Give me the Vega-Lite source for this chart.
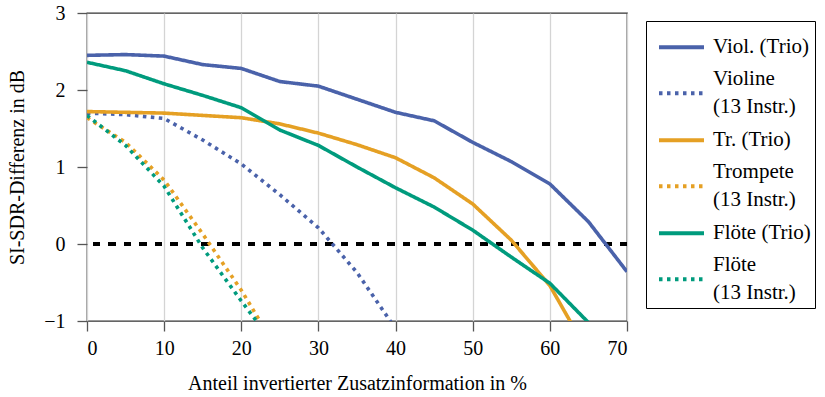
{
  "$schema": "https://vega.github.io/schema/vega-lite/v6.json",
  "width": 540,
  "height": 308,
  "autosize": {"type": "none"},
  "padding": {"left": 87, "top": 13, "right": 198, "bottom": 76},
  "background": "white",
  "config": {
    "font": "Liberation Serif",
    "view": {"stroke": "#333333", "strokeWidth": 1.3},
    "axis": {
      "labelFont": "Liberation Serif",
      "titleFont": "Liberation Serif",
      "labelFontSize": 20,
      "titleFontSize": 20,
      "titleFontWeight": "normal",
      "labelColor": "black",
      "titleColor": "black",
      "gridColor": "#d4d4d4",
      "gridWidth": 1.3,
      "tickColor": "#555555",
      "tickWidth": 1.3,
      "tickSize": 10,
      "domain": false
    },
    "legend": {
      "labelFont": "Liberation Serif",
      "labelFontSize": 21,
      "labelColor": "black"
    }
  },
  "data": {
    "values": [
      {"x": 0, "y": 2.45, "series": "Viol. (Trio)"},
      {"x": 5, "y": 2.46, "series": "Viol. (Trio)"},
      {"x": 10, "y": 2.44, "series": "Viol. (Trio)"},
      {"x": 15, "y": 2.33, "series": "Viol. (Trio)"},
      {"x": 20, "y": 2.28, "series": "Viol. (Trio)"},
      {"x": 25, "y": 2.11, "series": "Viol. (Trio)"},
      {"x": 30, "y": 2.05, "series": "Viol. (Trio)"},
      {"x": 35, "y": 1.88, "series": "Viol. (Trio)"},
      {"x": 40, "y": 1.71, "series": "Viol. (Trio)"},
      {"x": 45, "y": 1.6, "series": "Viol. (Trio)"},
      {"x": 50, "y": 1.32, "series": "Viol. (Trio)"},
      {"x": 55, "y": 1.07, "series": "Viol. (Trio)"},
      {"x": 60, "y": 0.78, "series": "Viol. (Trio)"},
      {"x": 65, "y": 0.29, "series": "Viol. (Trio)"},
      {"x": 70, "y": -0.36, "series": "Viol. (Trio)"},
      {"x": 0, "y": 1.7, "series": "Violine (13 Instr.)"},
      {"x": 5, "y": 1.68, "series": "Violine (13 Instr.)"},
      {"x": 10, "y": 1.63, "series": "Violine (13 Instr.)"},
      {"x": 15, "y": 1.35, "series": "Violine (13 Instr.)"},
      {"x": 20, "y": 1.04, "series": "Violine (13 Instr.)"},
      {"x": 25, "y": 0.64, "series": "Violine (13 Instr.)"},
      {"x": 30, "y": 0.21, "series": "Violine (13 Instr.)"},
      {"x": 35, "y": -0.37, "series": "Violine (13 Instr.)"},
      {"x": 40, "y": -1.1, "series": "Violine (13 Instr.)"},
      {"x": 0, "y": 1.72, "series": "Tr. (Trio)"},
      {"x": 5, "y": 1.71, "series": "Tr. (Trio)"},
      {"x": 10, "y": 1.7, "series": "Tr. (Trio)"},
      {"x": 15, "y": 1.67, "series": "Tr. (Trio)"},
      {"x": 20, "y": 1.64, "series": "Tr. (Trio)"},
      {"x": 25, "y": 1.56, "series": "Tr. (Trio)"},
      {"x": 30, "y": 1.44, "series": "Tr. (Trio)"},
      {"x": 35, "y": 1.29, "series": "Tr. (Trio)"},
      {"x": 40, "y": 1.12, "series": "Tr. (Trio)"},
      {"x": 45, "y": 0.86, "series": "Tr. (Trio)"},
      {"x": 50, "y": 0.52, "series": "Tr. (Trio)"},
      {"x": 55, "y": 0.05, "series": "Tr. (Trio)"},
      {"x": 60, "y": -0.54, "series": "Tr. (Trio)"},
      {"x": 65, "y": -1.42, "series": "Tr. (Trio)"},
      {"x": 0, "y": 1.64, "series": "Trompete (13 Instr.)"},
      {"x": 5, "y": 1.32, "series": "Trompete (13 Instr.)"},
      {"x": 10, "y": 0.83, "series": "Trompete (13 Instr.)"},
      {"x": 15, "y": 0.13, "series": "Trompete (13 Instr.)"},
      {"x": 20, "y": -0.6, "series": "Trompete (13 Instr.)"},
      {"x": 25, "y": -1.43, "series": "Trompete (13 Instr.)"},
      {"x": 0, "y": 2.36, "series": "Flöte (Trio)"},
      {"x": 5, "y": 2.25, "series": "Flöte (Trio)"},
      {"x": 10, "y": 2.08, "series": "Flöte (Trio)"},
      {"x": 15, "y": 1.93, "series": "Flöte (Trio)"},
      {"x": 20, "y": 1.77, "series": "Flöte (Trio)"},
      {"x": 25, "y": 1.48, "series": "Flöte (Trio)"},
      {"x": 30, "y": 1.28, "series": "Flöte (Trio)"},
      {"x": 35, "y": 1.0, "series": "Flöte (Trio)"},
      {"x": 40, "y": 0.73, "series": "Flöte (Trio)"},
      {"x": 45, "y": 0.48, "series": "Flöte (Trio)"},
      {"x": 50, "y": 0.18, "series": "Flöte (Trio)"},
      {"x": 55, "y": -0.17, "series": "Flöte (Trio)"},
      {"x": 60, "y": -0.51, "series": "Flöte (Trio)"},
      {"x": 65, "y": -1.02, "series": "Flöte (Trio)"},
      {"x": 0, "y": 1.67, "series": "Flöte (13 Instr.)"},
      {"x": 5, "y": 1.28, "series": "Flöte (13 Instr.)"},
      {"x": 10, "y": 0.75, "series": "Flöte (13 Instr.)"},
      {"x": 15, "y": -0.05, "series": "Flöte (13 Instr.)"},
      {"x": 20, "y": -0.74, "series": "Flöte (13 Instr.)"},
      {"x": 25, "y": -1.4, "series": "Flöte (13 Instr.)"}
    ]
  },
  "layer": [
    {
      "mark": {"type": "rule", "strokeDash": [7, 8.5], "strokeWidth": 3.5, "color": "black"},
      "encoding": {
        "y": {"datum": 0, "type": "quantitative", "scale": {"domain": [-1, 3]}, "axis": {"title": "SI-SDR-Differenz in dB", "values": [-1, 0, 1, 2, 3], "labelPadding": 12, "titlePadding": 16, "labelFont": "Liberation Serif", "titleFont": "Liberation Serif"}}
      }
    },
    {
      "mark": {"type": "line", "strokeWidth": 3.6, "clip": true, "strokeCap": "butt", "strokeJoin": "round"},
      "encoding": {
        "x": {"field": "x", "type": "quantitative", "scale": {"domain": [0, 70], "nice": false}, "axis": {"title": "Anteil invertierter Zusatzinformation in %", "values": [0, 10, 20, 30, 40, 50, 60, 70], "labelPadding": 7, "titlePadding": 15, "labelFont": "Liberation Serif", "titleFont": "Liberation Serif"}},
        "y": {"field": "y", "type": "quantitative", "scale": {"domain": [-1, 3], "nice": false}, "axis": {"title": "SI-SDR-Differenz in dB", "values": [-1, 0, 1, 2, 3], "labelPadding": 12, "titlePadding": 16, "labelFont": "Liberation Serif", "titleFont": "Liberation Serif"}},
        "color": {
          "field": "series", "type": "nominal",
          "scale": {
            "domain": ["Viol. (Trio)", "Violine (13 Instr.)", "Tr. (Trio)", "Trompete (13 Instr.)", "Flöte (Trio)", "Flöte (13 Instr.)"],
            "range": ["#4a62aa", "#4a62aa", "#e5a024", "#e5a024", "#009b7d", "#009b7d"]
          },
          "legend": {
            "title": null,
            "orient": "none",
            "legendX": 559,
            "legendY": 8,
            "strokeColor": "black",
            "padding": 4,
            "symbolType": "stroke",
            "symbolSize": 2025,
            "symbolStrokeWidth": 4,
            "symbolOffset": 7,
            "labelOffset": 7,
            "labelLimit": 300,
            "labelFont": "Liberation Serif",
            "labelFontSize": 21,
            "rowPadding": -2,
            "clipHeight": 44.5,
            "labelExpr": "indexof(datum.label, ' (13') > 0 ? [replace(datum.label, ' (13 Instr.)', ''), '(13 Instr.)'] : datum.label",
            "encode": {"labels": {"update": {"lineHeight": {"value": 28}, "dy": {"signal": "indexof(datum.label, ' (13') > 0 ? -14 : 0"}}}}
          }
        },
        "strokeDash": {
          "field": "series", "type": "nominal",
          "scale": {
            "domain": ["Viol. (Trio)", "Violine (13 Instr.)", "Tr. (Trio)", "Trompete (13 Instr.)", "Flöte (Trio)", "Flöte (13 Instr.)"],
            "range": [[1, 0], [3.5, 4.5], [1, 0], [3.5, 4.5], [1, 0], [3.5, 4.5]]
          },
          "legend": {"title": null}
        }
      }
    }
  ]
}
